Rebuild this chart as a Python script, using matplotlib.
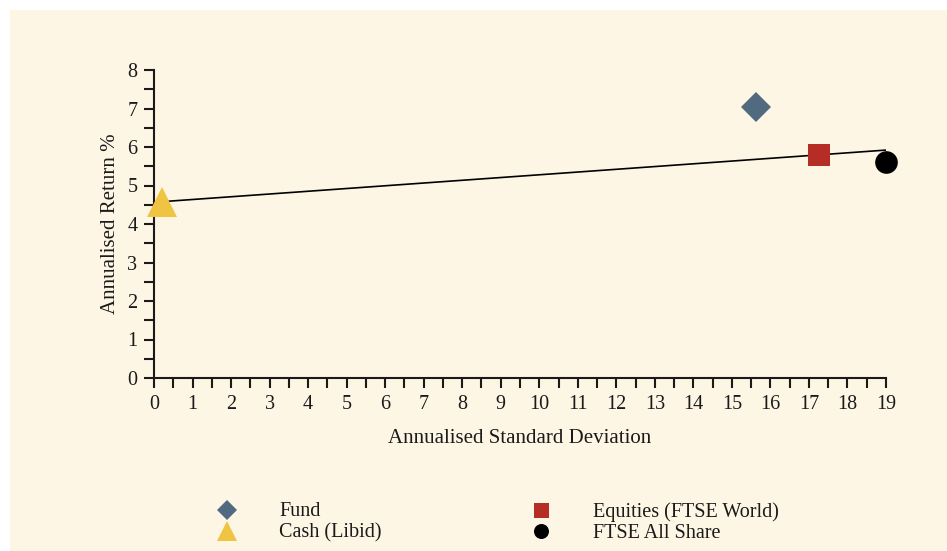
import matplotlib
matplotlib.use("Agg")
import matplotlib.pyplot as plt
from matplotlib.patches import Rectangle

plt.rcParams['font.family'] = ['Liberation Serif', 'DejaVu Serif']

# Data
series_names = ["Fund", "Equities (FTSE World)", "Cash (Libid)", "FTSE All Share"]
std_dev = [15.62, 17.26, 0.21, 19.0]
returns = [7.03, 5.79, 4.58, 5.61]
markers = ["D", "s", "^", "o"]
colors = ["#526a80", "#b52d24", "#f0c443", "#000000"]
sizes = [15.3, 16, 21.6, 16.3]
legend_sizes = [10.2, 10.8, 13.7, 10.8]

line_x = [0.21, 19.0]
line_y = [4.58, 5.92]

x_ticks = list(range(0, 20))
y_ticks = list(range(0, 9))

bg = "#fdf6e4"
fig = plt.figure(figsize=(9.47, 5.51), dpi=100)
fig.patch.set_facecolor("white")
fig.patches.append(Rectangle((10/947, 0), 1, 1 - 10/551, transform=fig.transFigure,
                             facecolor=bg, edgecolor="none", zorder=-10))

ax = fig.add_axes([154/947, 1 - 378/551, (886-154)/947, (378-70)/551])
ax.set_facecolor("none")
ax.plot(line_x, line_y, color="black", lw=1.2, zorder=2)
for x, y, m, c, s in zip(std_dev, returns, markers, colors, sizes):
    ax.plot([x], [y], marker=m, color=c, markersize=s, linestyle="none",
            markeredgewidth=0, zorder=3, clip_on=False)

ax.set_xlim(0, 19)
ax.set_ylim(0, 8)
ax.set_xticks(x_ticks)
ax.set_yticks(y_ticks)
ax.set_xticks([t + 0.5 for t in x_ticks[:-1]], minor=True)
ax.set_yticks([t + 0.5 for t in y_ticks[:-1]], minor=True)
ax.tick_params(which="both", direction="out", length=7, width=1.5, color="#1a1a1a",
               labelsize=14.5, labelcolor="#1a1a1a", pad=5)
ax.tick_params(which="minor", labelsize=0)
for s in ["top", "right"]:
    ax.spines[s].set_visible(False)
for s in ["left", "bottom"]:
    ax.spines[s].set_linewidth(1.5)
    ax.spines[s].set_color("#1a1a1a")
ax.set_xlabel("Annualised Standard Deviation", fontsize=15, color="#1a1a1a", labelpad=11)
ax.set_ylabel("Annualised Return %", fontsize=15, color="#1a1a1a", labelpad=5)

# Legend (manual layout)
lax = fig.add_axes([0, 0, 1, 1])
lax.set_xlim(0, 947)
lax.set_ylim(551, 0)
lax.axis("off")
legend_pos = [(227, 510), (541, 510), (227, 531), (541, 531)]
for (px, py), name, m, c, s in zip(legend_pos, series_names, markers, colors, legend_sizes):
    lax.plot([px], [py], marker=m, color=c, markersize=s, linestyle="none", markeredgewidth=0)
    lax.text(px + 52, py + 2, name, fontsize=14.5, color="#1a1a1a", va="center", ha="left")

fig.savefig("out.png", dpi=100, facecolor=fig.get_facecolor())
